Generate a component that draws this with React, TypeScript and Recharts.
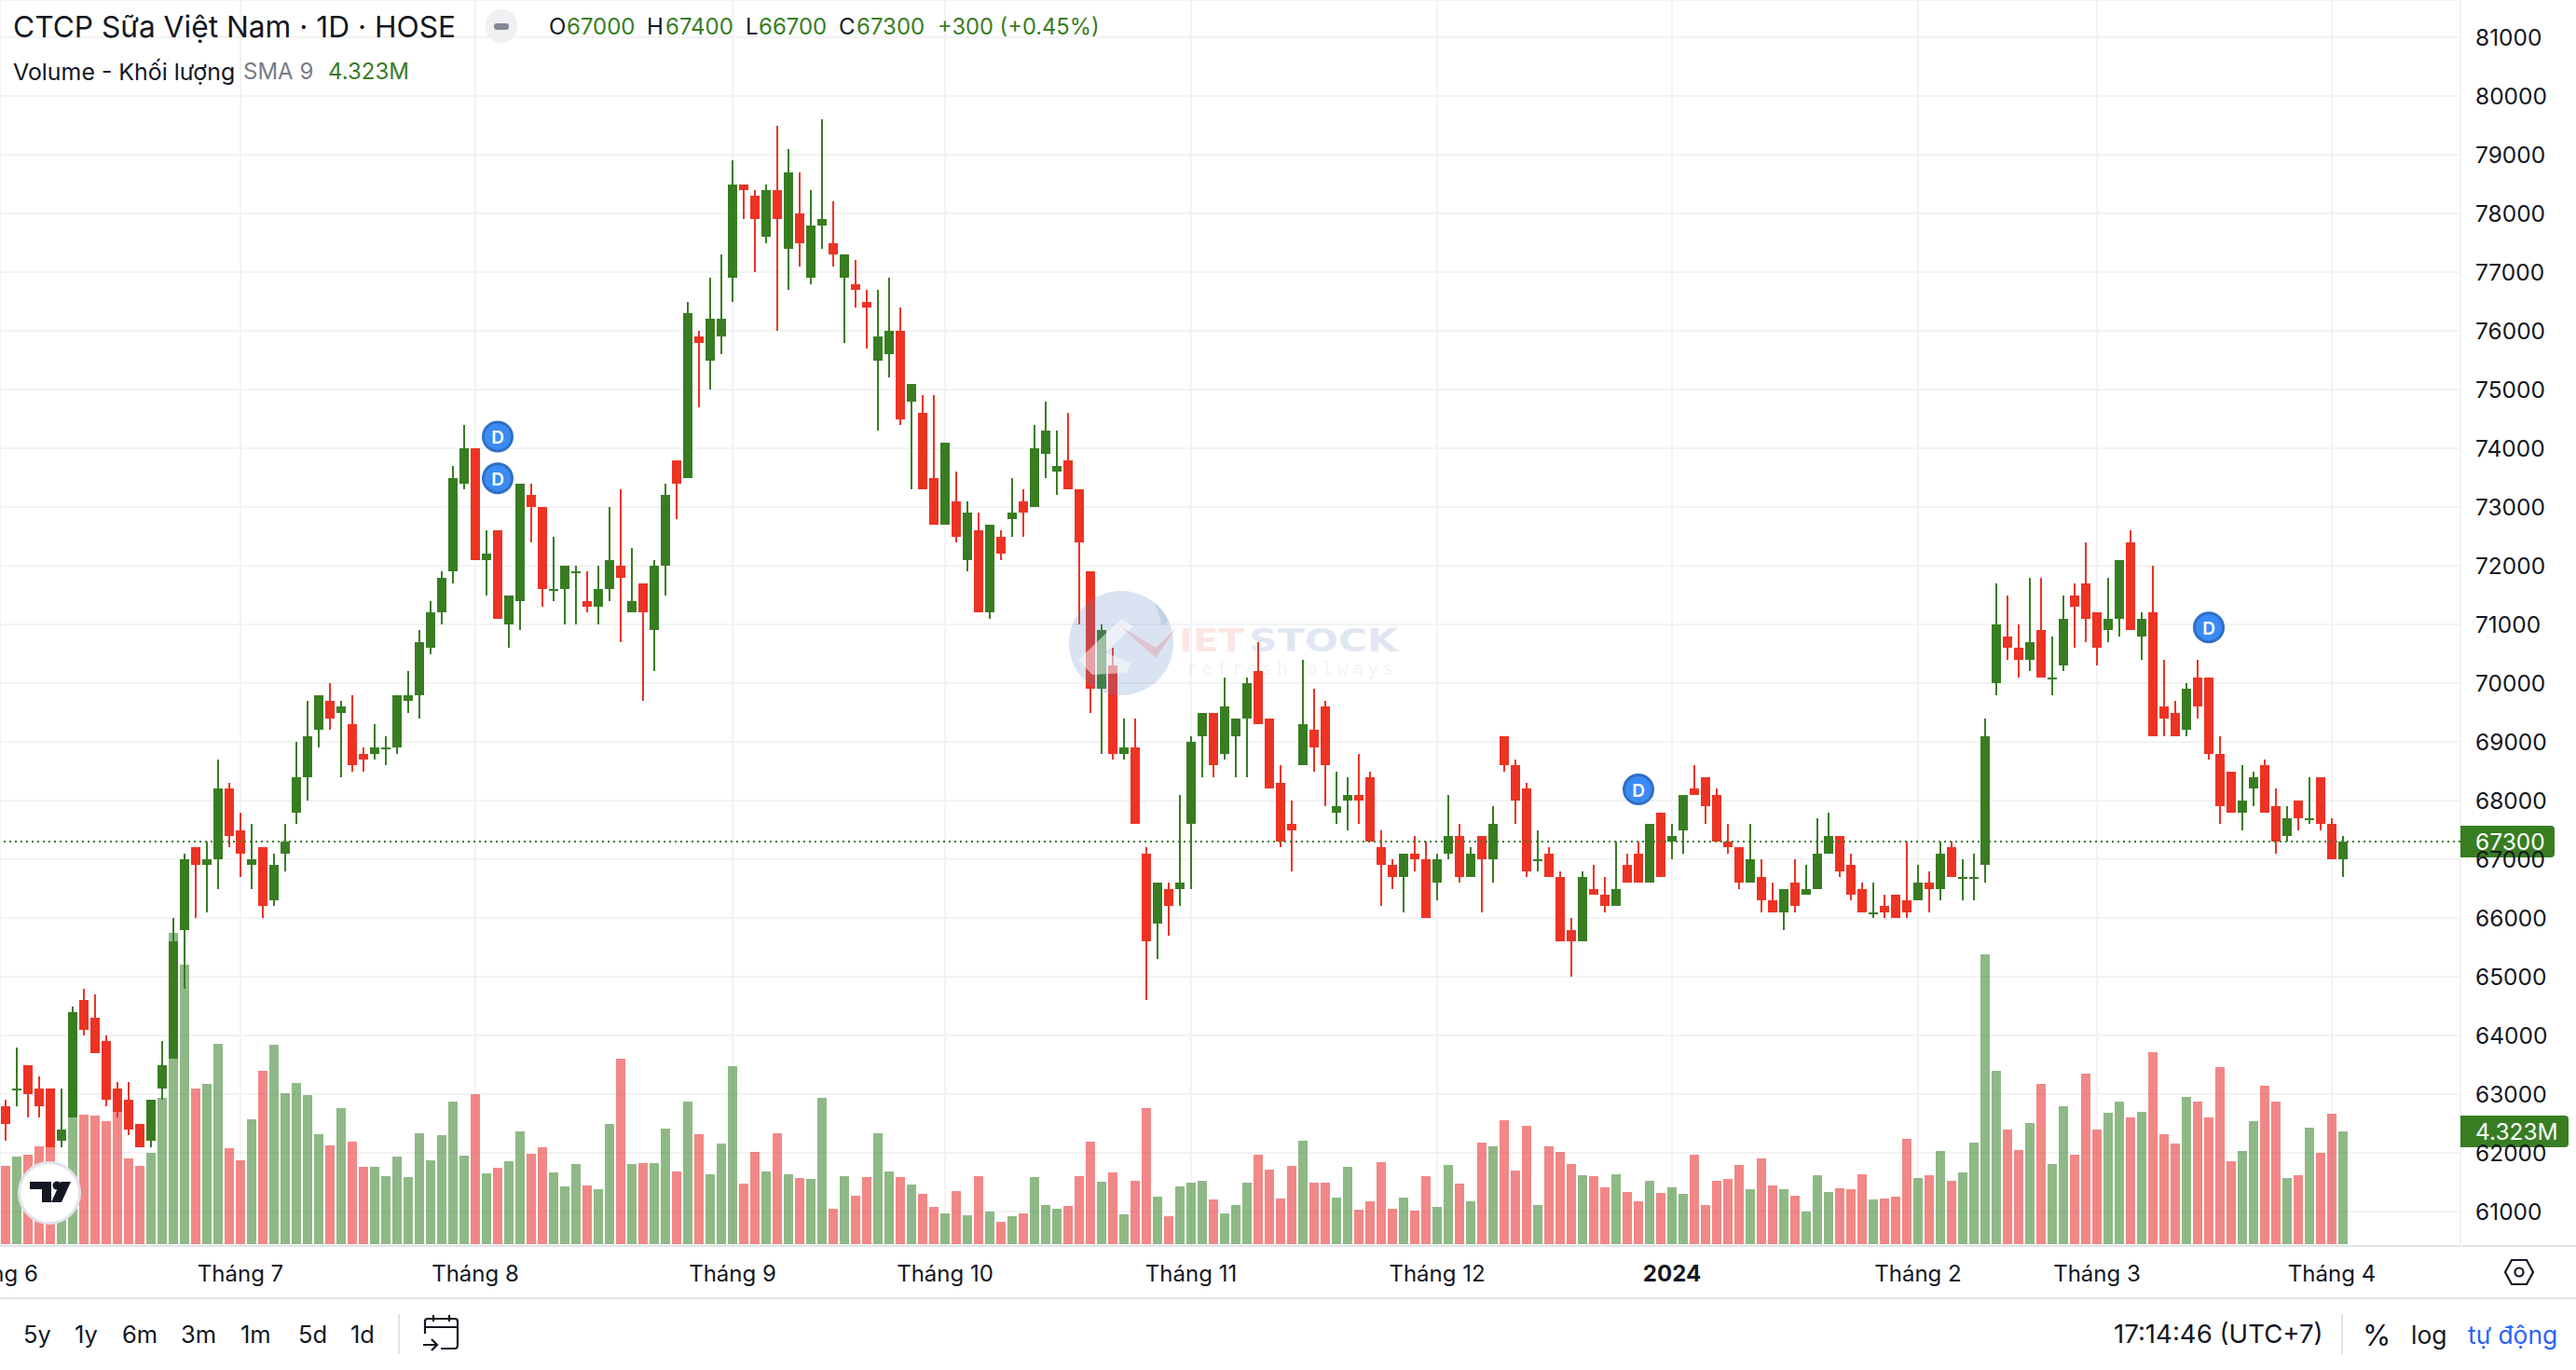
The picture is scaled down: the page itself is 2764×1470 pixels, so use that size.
import React from "react";
import { ComposedChart, Bar, XAxis, YAxis, CartesianGrid, ReferenceLine, ReferenceDot } from "recharts";

const opens = [62800,63100,63500,63100,63100,62200,62600,64600,64300,63900,63100,62900,62500,62200,63100,63600,65800,67200,66900,67000,
68200,67500,66900,67200,66300,67100,67800,68400,69200,69700,69500,69300,68800,68800,68900,68900,69700,69800,70600,71200,
71900,73400,74000,72100,72600,71000,71400,73200,73000,71600,71600,71900,71400,71300,71600,72000,71200,71700,70900,72000,
73800,73500,75900,75500,75900,76900,78500,78300,77600,78400,77400,78000,76900,77800,77500,76900,76800,76500,75500,75600,
76000,74800,74600,73500,72700,73100,72100,72600,71200,72500,72800,73100,73000,73900,73600,73800,73300,71900,69900,70300,
68800,68900,67100,65900,66500,66500,67600,69100,69500,68800,69100,69400,70200,69400,68300,67600,68600,69200,69600,67800,
68000,68100,68400,67200,66900,66700,67100,67000,66600,67100,67400,66700,67400,67000,69100,68600,68200,67000,67100,66700,
65800,65600,66500,66400,66200,66900,67100,66600,67800,67300,67500,68200,68400,68100,67300,67200,66600,66700,66300,66100,
66600,66400,66500,67100,67400,66900,66500,66100,66200,66400,66300,66300,66600,66500,67200,66700,66700,66900,70000,70800,
70600,70400,70900,70100,70300,71500,71700,71200,70900,71100,72400,70800,71200,69600,69500,69200,70100,70100,68800,68500,
67800,68200,68600,67900,67400,68000,67700,68400,67600,67000];
const closes = [62500,63100,63000,62800,62100,62400,64400,64100,63700,62900,62700,62400,62100,62900,63500,65600,67000,66900,67000,68200,
67400,67100,67000,66200,66900,67300,68400,69100,69800,69400,69600,68600,68700,68900,68900,69800,69800,70700,71200,71800,
73500,74000,72100,72200,71100,71500,73400,73000,71600,71600,72000,71900,71300,71600,72100,71800,71400,71200,72000,73200,
73400,76300,75800,76200,76200,78500,78400,77900,78400,77900,78700,77500,77800,77900,77300,77300,76700,76400,75900,76000,
74500,75100,73300,72700,74100,72500,72900,71200,72700,72200,72900,72900,74000,74300,73700,73300,72400,69900,70900,68800,
68900,67600,65600,66600,66200,66600,69000,69500,68600,69600,69400,70000,69300,68200,67300,67500,69300,68900,68600,67900,
68100,68000,67300,66900,66700,67100,67000,66000,67000,67400,66700,67100,67000,67600,68600,68000,66800,67000,66700,65600,
65600,66700,66400,66200,66500,66600,66600,67600,66700,67400,68100,68100,67900,67300,67200,66600,67000,66300,66100,66500,
66200,66500,67100,67400,66800,66400,66100,66100,66100,66000,66100,66600,66500,67100,66700,66700,66700,69100,71000,70600,
70400,70700,70100,70100,71100,71300,71100,70600,71100,72100,70900,71100,69100,69400,69100,69900,69600,68800,67900,67800,
68000,68400,67800,67300,67700,67700,67700,67600,67000,67300];
const highs = [62900,63800,63500,63300,63100,63100,64500,64800,64700,64000,63200,63200,62500,62900,63900,66000,67100,67200,67300,68700,
68300,67800,67600,67200,67100,67600,69000,69700,69800,70000,69700,69800,68900,69300,69100,69800,70200,70900,71400,71900,
73700,74400,74000,72600,72600,71500,73400,73400,73000,72500,72000,72000,71900,72000,73000,73300,72300,71700,72100,73400,
73800,76500,76000,76900,77300,78900,78500,78400,78500,79500,79100,78700,78400,79600,78200,77300,77200,76700,76700,76900,
76400,75100,74900,74900,74100,73600,73100,72900,72700,72600,73500,73300,74400,74800,74300,74600,73300,71900,71000,70600,
69400,69400,67200,66600,66600,68100,69100,69500,69500,70100,69400,70100,70700,69400,68600,68000,70400,69900,69700,68500,
68400,68800,68500,67500,67000,67100,67400,67300,67100,68100,67600,67200,67400,67900,69100,68700,68300,67500,67200,66800,
66000,66800,66900,66700,67300,67100,67300,67600,67800,67600,68100,68600,68400,68200,67600,67200,67600,67000,66600,66500,
67000,66900,67700,67800,67400,67100,66600,66600,66400,66400,67300,66900,66800,67300,67300,67000,67100,69400,71700,71500,
71000,71800,71800,70800,71500,71700,72400,71200,71800,72100,72600,71200,72000,70400,69700,70000,70400,70100,69100,68500,
68600,68500,68700,68200,67900,68000,68400,68400,67700,67400];
const lows = [62200,62800,62600,62600,62100,62100,62600,64000,63700,62800,62600,62300,62100,62100,62900,63600,64800,66000,66100,66500,
67200,66700,66500,66000,66200,66800,67600,68000,68900,69200,68400,68500,68500,68700,68600,68800,69500,69400,70500,71000,
71700,73300,72100,71500,71100,70600,70900,72400,71300,71400,71000,71000,71200,71000,71400,70700,71200,69700,70200,71500,
72800,73500,74700,75000,75600,76500,77900,77000,77500,76000,76700,77100,76800,77400,77100,75800,76400,75700,74300,75200,
74400,73300,73300,72700,72700,72400,71900,71200,71100,72100,72500,72500,73000,73500,73200,73300,71000,69500,68800,68700,
68700,67600,64600,65300,65700,66200,66500,68400,68400,68700,68400,68400,69300,68200,67200,66800,68600,68500,67900,67600,
67500,67600,67300,66200,66500,66100,66800,66000,66300,67000,66600,66700,66100,66600,68500,67600,66700,66800,66700,65600,
65000,65600,66400,66100,66200,66600,66600,66600,66700,67000,67100,68100,67600,67300,67100,66500,66600,66100,66100,65800,
66100,66400,66500,67100,66700,66300,66100,66000,66000,66000,66000,66300,66100,66300,66700,66300,66300,66600,69800,70400,
70100,70200,70100,69800,70200,70600,70700,70300,70700,70800,70900,70400,69100,69100,69100,69100,69400,68700,67600,67800,
67500,67900,67800,67100,67300,67500,67600,67500,67000,66700];
const volumes = [3.00,3.36,3.43,3.75,3.82,2.92,4.90,4.97,4.93,4.72,5.12,3.29,3.00,3.50,5.61,11.93,10.72,5.97,6.15,7.68,
3.68,3.22,4.79,6.65,7.65,5.79,6.18,5.72,4.22,3.79,5.22,3.93,2.97,2.97,2.61,3.36,2.57,4.25,3.22,4.18,
5.47,3.39,5.75,2.72,2.93,3.18,4.32,3.47,3.72,2.75,2.22,3.07,2.25,2.11,4.61,7.11,3.07,3.11,3.11,4.43,
2.79,5.47,4.22,2.68,3.86,6.82,2.32,3.54,2.79,4.25,2.68,2.54,2.50,5.61,1.36,2.61,1.86,2.57,4.25,2.79,
2.57,2.29,1.93,1.43,1.18,2.04,1.11,2.61,1.25,0.86,1.07,1.18,2.57,1.50,1.36,1.46,2.61,3.93,2.39,2.75,
1.14,2.43,5.22,1.82,1.07,2.22,2.36,2.43,1.72,1.18,1.50,2.36,3.43,2.86,1.75,3.00,3.97,2.36,2.36,1.79,
2.97,1.32,1.64,3.14,1.36,1.79,1.29,2.61,1.43,3.04,2.32,1.64,3.89,3.75,4.75,2.82,4.54,1.50,3.75,3.54,
3.07,2.64,2.61,2.18,2.68,2.00,1.64,2.43,1.97,2.18,1.93,3.43,1.50,2.43,2.50,3.04,2.11,3.29,2.25,2.11,
1.86,1.25,2.64,2.00,2.14,2.11,2.68,1.72,1.75,1.82,4.04,2.54,2.64,3.57,2.43,2.75,3.89,11.11,6.65,4.39,
3.61,4.64,6.15,3.07,5.29,3.43,6.54,4.39,5.04,5.47,4.86,5.07,7.36,4.22,3.86,5.65,5.47,4.86,6.79,3.18,
3.57,4.72,6.07,5.47,2.54,2.64,4.47,3.50,5.00,4.323];
const priceTicks = [61000,62000,63000,64000,65000,66000,67000,68000,69000,70000,71000,72000,73000,74000,75000,76000,77000,78000,79000,80000,81000];
const monthIndex = [-1,21,42,65,84,106,128,149,171,187,208];
const monthNames = ["Tháng 6","Tháng 7","Tháng 8","Tháng 9","Tháng 10","Tháng 11","Tháng 12","2024","Tháng 2","Tháng 3","Tháng 4"];
const dividendIndex = [44,44,146,197];
const dividendPrice = [74200,73490,68190,70950];
const rangeButtons = ["5y","1y","6m","3m","1m","5d","1d"];
const rangeLeft = [25,80,131,194,258,320,376];

const UP = "#387d22";
const DOWN = "#ed3324";
const INK = "#131722";
const FONT = "Inter, 'Noto Sans', sans-serif";
const lastClose = 67300;
const lastVolume = 4.323;

const rows = opens.map((o, i) => ({ i, o, c: closes[i], h: highs[i], l: lows[i], v: volumes[i] }));

const Candle = (p: any) => {
  const { x, y, width, height, payload } = p;
  const top = Math.min(y, y + height);
  const k = Math.abs(height) / (payload.h - payload.l);
  const yOf = (v: number) => top + (payload.h - v) * k;
  const up = payload.c >= payload.o;
  const col = up ? UP : DOWN;
  const cx = x + width / 2;
  const t = yOf(Math.max(payload.o, payload.c));
  const b = yOf(Math.min(payload.o, payload.c));
  return (
    <g shapeRendering="crispEdges">
      <rect x={cx - 1} y={top} width={2} height={Math.abs(height)} fill={col} />
      <rect x={x} y={t} width={width} height={Math.max(b - t, 2)} fill={col} />
    </g>
  );
};
const VolumeBar = (p: any) => {
  const { x, y, width, height, payload } = p;
  return <rect x={x} y={y} width={width} height={height} shapeRendering="crispEdges"
    fill={payload.c >= payload.o ? "rgba(50,128,34,0.55)" : "rgba(233,48,48,0.58)"} />;
};
const MonthTick = (p: any) => {
  const idx = monthIndex.indexOf(p.payload.value);
  const bold = monthNames[idx] === "2024";
  return <text x={p.x} y={1366} textAnchor="middle" dominantBaseline="central" fontFamily={FONT} fontSize={24} fontWeight={bold ? 700 : 400} fill={INK}>{monthNames[idx]}</text>;
};
const priceTick = (p: any) => (
  <text x={2656} y={p.y} dominantBaseline="central" fontFamily={FONT} fontSize={24.5} fill={INK}>{p.payload.value}</text>
);
const Tag = (w: number, text: string) => (p: any) => {
  const y = p.viewBox.y;
  return (
    <g>
      <path d={`M2640 ${y - 17} H${2640 + w - 4} Q${2640 + w} ${y - 17} ${2640 + w} ${y - 13} V${y + 13} Q${2640 + w} ${y + 17} ${2640 + w - 4} ${y + 17} H2640 Z`} fill={UP} />
      <text x={2656} y={y} dominantBaseline="central" fontFamily={FONT} fontSize={24.5} fill="#fff">{text}</text>
    </g>
  );
};
const DividendDot = (p: any) => (
  <g>
    <circle cx={p.cx} cy={p.cy} r={15.5} fill="#3b8bf5" stroke="#2f6fc5" strokeWidth={3} />
    <text x={p.cx} y={p.cy + 1} textAnchor="middle" dominantBaseline="central" fontFamily={FONT} fontSize={19} fontWeight={600} fill="#fff">D</text>
  </g>
);

const abs = (left: number, top: number, size: number, color: string, text: string, extra: any = {}) => (
  <div style={{ position: "absolute", left, top, transform: "translateY(-50%)", fontFamily: FONT, fontSize: size, color, whiteSpace: "nowrap", lineHeight: 1, ...extra }}>{text}</div>
);

export default function App() {
  return (
    <div style={{ position: "relative", width: 2764, height: 1470, background: "#fff", overflow: "hidden" }}>
      <style>{"body{margin:0;background:#fff}"}</style>
      <ComposedChart width={2764} height={1470} data={rows} margin={{ top: 0, right: 0, bottom: 0, left: 0 }}>
        <CartesianGrid xAxisId="x" yAxisId="p" stroke="#f2f3f4" strokeWidth={2} />
        <XAxis xAxisId="x" dataKey="i" type="number" domain={[-0.5, 219.5]} allowDataOverflow ticks={monthIndex} interval={0} height={133}
          axisLine={false} tickLine={false} tick={MonthTick} />
        <XAxis xAxisId="x2" dataKey="i" type="number" domain={[-0.5, 219.5]} allowDataOverflow hide />
        <YAxis yAxisId="p" orientation="right" width={124} domain={[60413, 81635]} allowDataOverflow ticks={priceTicks} interval={0}
          axisLine={false} tickLine={false} tick={priceTick} />
        <YAxis yAxisId="v" hide domain={[-0.071, 47.7]} allowDataOverflow />
        <Bar xAxisId="x2" yAxisId="v" dataKey="v" barSize={10} shape={VolumeBar} isAnimationActive={false} />
        <ReferenceLine xAxisId="x" yAxisId="p" y={lastClose} stroke={UP} strokeWidth={2} strokeDasharray="2 4" label={{ content: Tag(101, String(lastClose)) } as any} />
        <ReferenceLine xAxisId="x" yAxisId="v" y={lastVolume} stroke="none" label={{ content: Tag(116, "4.323M") } as any} />
        <Bar xAxisId="x" yAxisId="p" dataKey={(d: any) => [d.l, d.h]} barSize={10} shape={Candle} isAnimationActive={false} />
        {dividendIndex.map((x, k) => (
          <ReferenceDot key={k} xAxisId="x" yAxisId="p" x={x} y={dividendPrice[k]} shape={DividendDot} />
        ))}
      </ComposedChart>

      {/* watermark */}
      <svg width={2764} height={1470} style={{ position: "absolute", left: 0, top: 0, pointerEvents: "none" }}>
        <g>
          <circle cx={1203} cy={690} r={56} fill="rgba(95,140,195,0.24)" />
          <path d="M1237 645 Q1250 655 1254 667 L1246 671 Q1245 658 1237 645 Z" fill="rgba(95,140,195,0.22)" />
          <path d="M1157 708 L1203 664 L1216 672 L1186 700 L1214 712 L1208 722 L1172 724 Z" fill="rgba(255,255,255,0.5)" />
          <path d="M1202 672 L1240 695 L1263 673 L1240 706 Z" fill="rgba(240,90,90,0.24)" />
          <text x={1265} y={699} fontFamily="'DejaVu Sans', sans-serif" fontWeight={700} fontSize={34} textLength={70} lengthAdjust="spacingAndGlyphs" fill="rgba(240,90,90,0.18)">IET</text>
          <text x={1340} y={699} fontFamily="'DejaVu Sans', sans-serif" fontWeight={700} fontSize={34} textLength={160} lengthAdjust="spacingAndGlyphs" fill="rgba(95,130,190,0.2)">STOCK</text>
          <text x={1273} y={724} fontFamily="'DejaVu Sans Mono', monospace" fontSize={19} textLength={222} fill="rgba(120,120,120,0.1)">refresh always</text>
        </g>
      </svg>

      {/* legend */}
      {abs(14, 29, 31.7, INK, "CTCP Sữa Việt Nam · 1D · HOSE")}
      <div style={{ position: "absolute", left: 521, top: 10, width: 34, height: 36, borderRadius: 18, background: "#eef0f2" }} />
      <div style={{ position: "absolute", left: 530, top: 25, width: 16, height: 7, borderRadius: 3, background: "#868993" }} />
      {abs(589, 29, 24, INK, "O")}{abs(608, 29, 24, UP, "67000")}
      {abs(694, 29, 24, INK, "H")}{abs(714, 29, 24, UP, "67400")}
      {abs(800, 29, 24, INK, "L")}{abs(814, 29, 24, UP, "66700")}
      {abs(900, 29, 24, INK, "C")}{abs(919, 29, 24, UP, "67300")}
      {abs(1006, 29, 23.7, UP, "+300 (+0.45%)")}
      {abs(14, 77, 24.9, INK, "Volume - Khối lượng")}
      {abs(261, 77, 24, "#787b86", "SMA 9")}
      {abs(352, 77, 24, UP, "4.323M")}

      {/* TradingView badge */}
      <svg width={80} height={80} style={{ position: "absolute", left: 13, top: 1240 }}>
        <circle cx={40} cy={40} r={32.5} fill="#fff" stroke="#e0e3eb" strokeWidth={3} />
        <path d="M19 28 H42 V50 H32 V36 H19 Z" fill={INK} />
        <circle cx={48} cy={32} r={4.5} fill={INK} />
        <path d="M52 28 H63 L53 50 H42 Z" fill={INK} />
      </svg>

      {/* axis and toolbar */}
      <div style={{ position: "absolute", left: 0, top: 1336, width: 2640, height: 2, background: "#e0e3eb" }} />
      <div style={{ position: "absolute", left: 2642, top: 1336, width: 122, height: 2, background: "#e0e3eb" }} />
      <div style={{ position: "absolute", left: 0, top: 1392, width: 2764, height: 2, background: "#e0e3eb" }} />
      <svg width={40} height={36} style={{ position: "absolute", left: 2683, top: 1347 }} fill="none" stroke={INK} strokeWidth={2.2}>
        <path d="M12 5 H28 L35 18 L28 31 H12 L5 18 Z" />
        <circle cx={20} cy={18} r={4.5} />
      </svg>
      {rangeButtons.map((b, k) => abs(rangeLeft[k], 1432, 25.5, INK, b))}
      <div style={{ position: "absolute", left: 427, top: 1410, width: 2, height: 43, background: "#e0e3eb" }} />
      <svg width={44} height={42} style={{ position: "absolute", left: 452, top: 1410 }} fill="none" stroke={INK} strokeWidth={2.2}>
        <path d="M4 21 V8 Q4 5 7 5 H36 Q39 5 39 8 V33 Q39 37 36 37 H21" />
        <path d="M4 14 H39 M13 1 V8 M30 1 V8" />
        <path d="M2 33 H17 M11 27 L17 33 L11 39" />
      </svg>
      {abs(2268, 1432, 27.6, INK, "17:14:46 (UTC+7)")}
      <div style={{ position: "absolute", left: 2512, top: 1410, width: 2, height: 43, background: "#e0e3eb" }} />
      {abs(2535, 1432, 31, INK, "%")}
      {abs(2587, 1432, 26.5, INK, "log")}
      {abs(2648, 1432, 26.4, "#2962ff", "tự động")}
    </div>
  );
}
